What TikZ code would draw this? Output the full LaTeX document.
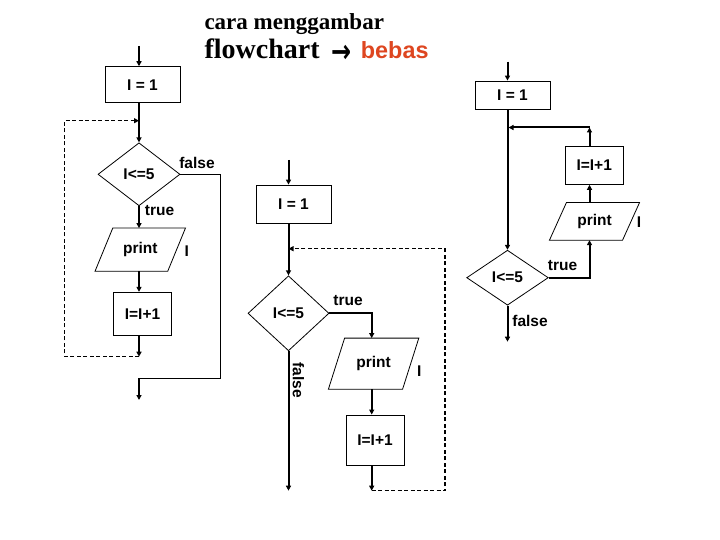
\documentclass[tikz,border=0pt]{standalone}
\usepackage{fontspec}
\setmainfont{Liberation Sans}
\newfontfamily\titleserif{Liberation Serif}
\newfontfamily\arrowfont{DejaVu Sans}
\usetikzlibrary{arrows.meta,shapes.geometric}
\definecolor{bebasred}{RGB}{222,70,32}
\begin{document}
\begin{tikzpicture}[x=1pt,y=-1pt,
  every node/.style={font=\bfseries\fontsize{15.5}{18}\selectfont},
  proc/.style={draw,line width=0.9pt,inner sep=0pt},
  dec/.style={diamond,draw,line width=0.8pt,inner sep=0pt},
  io/.style={inner sep=0pt},
  lbl/.style={inner sep=0pt},
  tip/.style={-{Triangle[length=5pt,width=5pt]}},
  flow/.style={line width=2pt,tip},
  thinline/.style={line width=1pt},
  loopline/.style={line width=1.2pt,dash pattern=on 4pt off 2.5pt,tip},
  para/.style={line width=0.8pt}
]
\fill[white] (0,0) rectangle (720,540);
\useasboundingbox (0,0) rectangle (720,540);

% title
\node[anchor=base west,inner sep=0pt,font=\titleserif\bfseries\fontsize{23}{26}\selectfont] (t1) at (204.3,30) {cara menggambar};
\node[anchor=base west,inner sep=0pt,font=\titleserif\bfseries\fontsize{28}{32}\selectfont] (t2) at (204.3,58.3) {flowchart};
\node[inner sep=0pt,xscale=0.75,font=\arrowfont\bfseries\fontsize{32}{36}\selectfont] (t3) at (341.5,54.3) {→};
\node[anchor=base west,inner sep=0pt,font=\bfseries\fontsize{23.4}{26}\selectfont,text=bebasred] (t4) at (360.7,58.3) {bebas};

% ---------- left flowchart ----------
\coordinate (L0) at (139,46);
\node[proc,minimum width=75pt,minimum height=36pt] (L1) at (142.5,84.7) {I = 1};
\node[dec,minimum width=82pt,minimum height=63pt] (L2) at (139,174.3) {I<=5};
\node[io,minimum width=72.3pt,minimum height=42.7pt] (L3) at (140.25,249.65) {print};
\node[proc,minimum width=58.4pt,minimum height=43.4pt] (L4) at (142.5,314) {I=I+1};
\coordinate (L5) at (139,356.7);
\coordinate (L6) at (139,120.7);
\coordinate (Ld1) at (64.3,356.7);
\coordinate (Ld2) at (64.3,120.7);
\coordinate (Lf1) at (220.7,174.3);
\coordinate (Lf2) at (220.7,378.3);
\coordinate (Lf3) at (139,378.3);
\coordinate (Lend) at (139,400);

\draw[para] ([xshift=8.85pt]L3.north west) -- ([xshift=8.85pt]L3.north east) -- ([xshift=-8.85pt]L3.south east) -- ([xshift=-8.85pt]L3.south west) -- cycle;

\draw[flow] (L0) -- (L0 |- L1.north);
\draw[flow] (L0 |- L1.south) -- (L2.north);
\draw[flow] (L2.south) -- (L2.south |- L3.north);
\draw[flow] (L2.south |- L3.south) -- (L2.south |- L4.north);
\draw[flow] (L2.south |- L4.south) -- (L5);
\draw[loopline] (L5) -- (Ld1) -- (Ld2) -- (L6);
\draw[thinline] (L2.east) -- (Lf1) -- (Lf2) -- (Lf3);
\draw[flow] (Lf3) -- (Lend);

\node[lbl] (Lfalse) at (197,163) {false};
\node[lbl] (Ltrue) at (159.5,211) {true};
\node[lbl] (LI) at (186.7,250.7) {I};

% ---------- middle flowchart ----------
\coordinate (M0) at (288.5,160);
\node[proc,minimum width=75pt,minimum height=38.3pt] (M1) at (293.5,204.2) {I = 1};
\node[dec,minimum width=81pt,minimum height=75pt] (M2) at (288.5,313.3) {I<=5};
\node[io,minimum width=73.8pt,minimum height=50.7pt] (M3) at (373.6,363.65) {print};
\node[proc,minimum width=58pt,minimum height=50pt] (M4) at (375,440) {I=I+1};
\coordinate (Mt) at (371.7,313.3);
\coordinate (M5) at (371.7,490.7);
\coordinate (Md1) at (445,490.7);
\coordinate (Md2) at (445,248.7);
\coordinate (M6) at (288.5,248.7);
\coordinate (Mend) at (288.5,490.7);

\draw[para] ([xshift=8.1pt]M3.north west) -- ([xshift=8.1pt]M3.north east) -- ([xshift=-8.1pt]M3.south east) -- ([xshift=-8.1pt]M3.south west) -- cycle;

\draw[flow] (M0) -- (M0 |- M1.north);
\draw[flow] (M0 |- M1.south) -- (M2.north);
\draw[flow] (M2.east) -- (Mt) -- (Mt |- M3.north);
\draw[flow] (Mt |- M3.south) -- (Mt |- M4.north);
\draw[flow] (Mt |- M4.south) -- (M5);
\draw[loopline] (M5) -- (Md1) -- (Md2) -- (M6);
\draw[flow] (M2.south) -- (Mend);

\node[lbl] (Mtrue) at (348,300.7) {true};
\node[lbl,rotate=-90] (Mfalse) at (298.3,380) {false};
\node[lbl] (MI) at (419.3,370.7) {I};

% ---------- right flowchart ----------
\coordinate (R0) at (507.5,61.7);
\node[proc,minimum width=75pt,minimum height=28.3pt] (R1) at (512.5,95.2) {I = 1};
\node[dec,minimum width=81.6pt,minimum height=55pt] (R2) at (507.5,277.7) {I<=5};
\node[io,minimum width=72.7pt,minimum height=37.3pt] (R3) at (594.5,221.35) {print};
\node[proc,minimum width=58.3pt,minimum height=38.3pt] (R4) at (594.2,165.2) {I=I+1};
\coordinate (Rt) at (589.5,277.7);
\coordinate (Rj) at (589.5,127.5);
\coordinate (R6) at (508.5,127.5);
\coordinate (Rend) at (507.5,341.7);

\draw[para] ([xshift=8.5pt]R3.north west) -- ([xshift=8.5pt]R3.north east) -- ([xshift=-8.5pt]R3.south east) -- ([xshift=-8.5pt]R3.south west) -- cycle;

\draw[flow] (R0) -- (R0 |- R1.north);
\draw[flow] (R0 |- R1.south) -- (R2.north);
\draw[flow] (R2.east) -- (Rt) -- (Rt |- R3.south);
\draw[flow] (Rt |- R3.north) -- (Rt |- R4.south);
\draw[flow] (Rt |- R4.north) -- (Rj);
\draw[flow] (Rj) -- (R6);
\draw[flow] (R2.south) -- (Rend);

\node[lbl] (Rtrue) at (562.5,266) {true};
\node[lbl] (Rfalse) at (530,320.7) {false};
\node[lbl] (RI) at (639,222) {I};
\end{tikzpicture}
\end{document}
